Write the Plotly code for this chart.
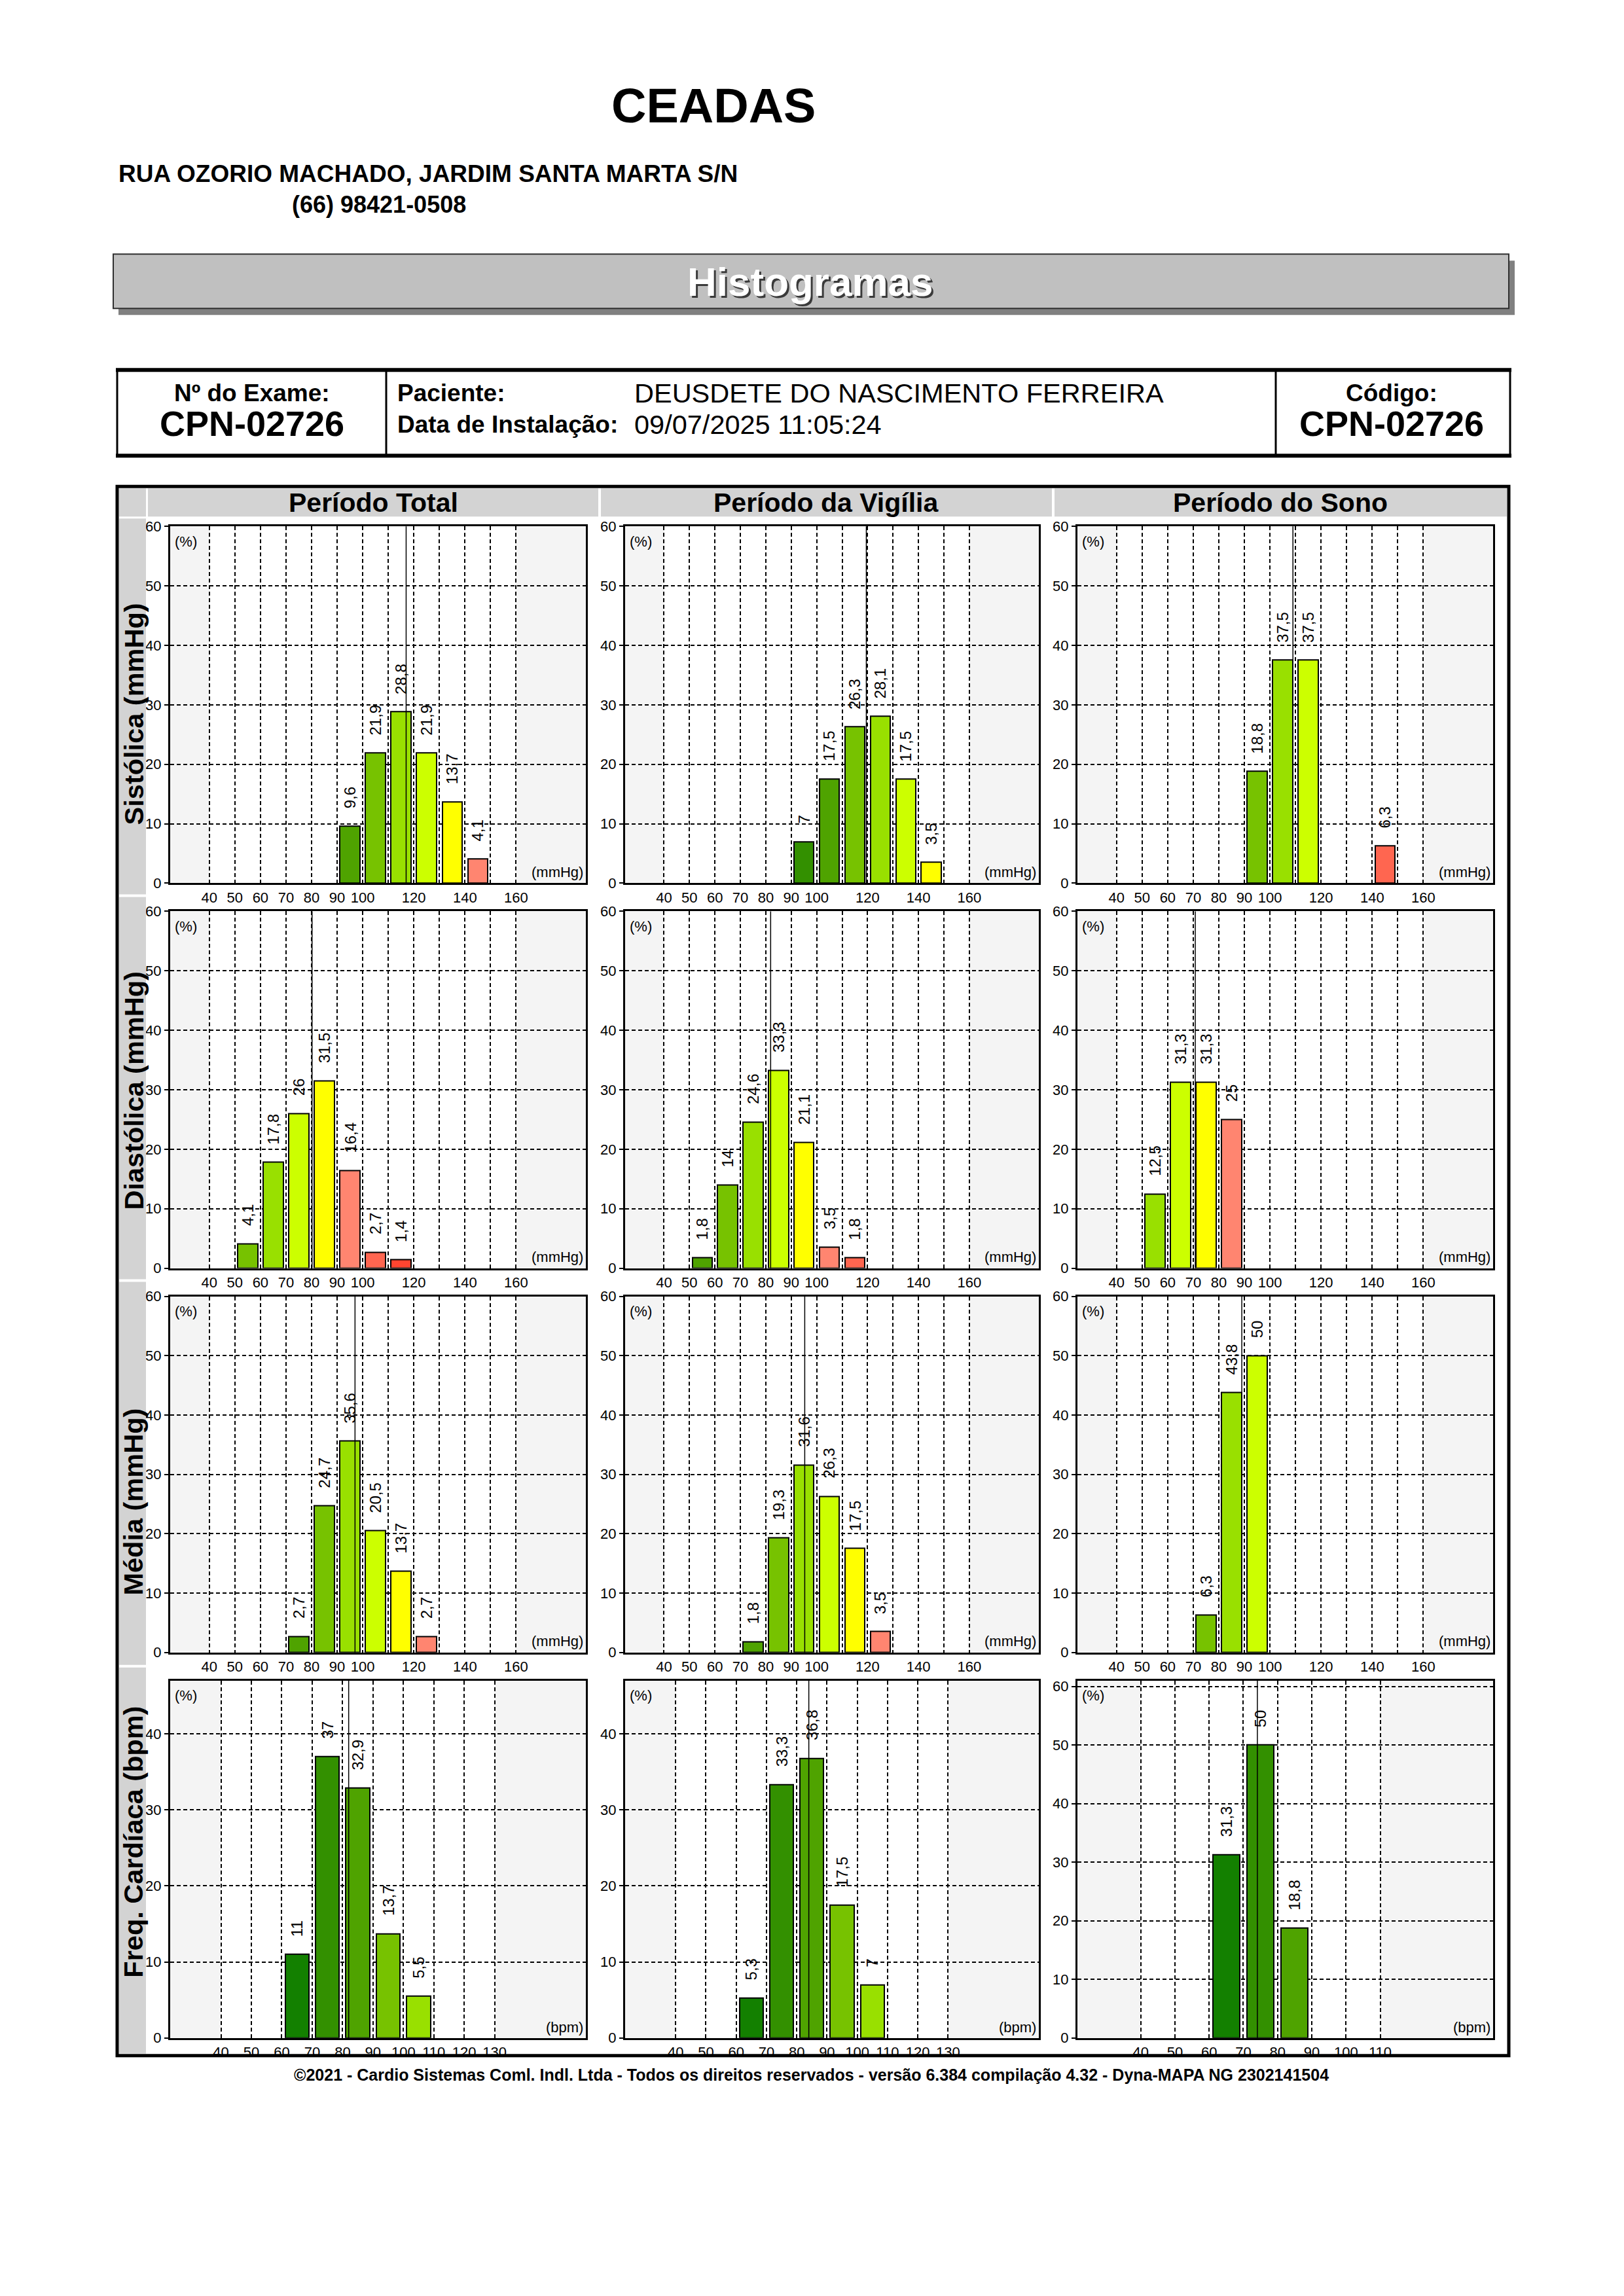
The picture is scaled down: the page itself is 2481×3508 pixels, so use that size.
import plotly.graph_objects as go

W, H = 2481, 3508
FONT = "Liberation Sans, Arial, sans-serif"

# ---------------- data ----------------
periods = ["Período Total", "Período da Vigília", "Período do Sono"]
row_titles = ["Sistólica (mmHg)", "Diastólica (mmHg)", "Média (mmHg)", "Freq. Cardíaca (bpm)"]
row_units = ["(mmHg)", "(mmHg)", "(mmHg)", "(bpm)"]

bp_ticks = [40, 50, 60, 70, 80, 90, 100, 110, 120, 130, 140, 150, 160]
bp_ticktext = ["40", "50", "60", "70", "80", "90", "100", "", "120", "", "140", "", "160"]
fc_ticks_long = [40, 50, 60, 70, 80, 90, 100, 110, 120, 130]
fc_ticks_short = [40, 50, 60, 70, 80, 90, 100, 110]
pct_ticks_60 = [0, 10, 20, 30, 40, 50, 60]
pct_ticks_40 = [0, 10, 20, 30, 40]

# bin lower edges (bin width 10) and percentages
sis_total_bins = [90, 100, 110, 120, 130, 140]
sis_total_pct = [9.6, 21.9, 28.8, 21.9, 13.7, 4.1]
sis_vig_bins = [90, 100, 110, 120, 130, 140]
sis_vig_pct = [7, 17.5, 26.3, 28.1, 17.5, 3.5]
sis_sono_bins = [90, 100, 110, 140]
sis_sono_pct = [18.8, 37.5, 37.5, 6.3]

dia_total_bins = [50, 60, 70, 80, 90, 100, 110]
dia_total_pct = [4.1, 17.8, 26, 31.5, 16.4, 2.7, 1.4]
dia_vig_bins = [50, 60, 70, 80, 90, 100, 110]
dia_vig_pct = [1.8, 14, 24.6, 33.3, 21.1, 3.5, 1.8]
dia_sono_bins = [50, 60, 70, 80]
dia_sono_pct = [12.5, 31.3, 31.3, 25]

med_total_bins = [70, 80, 90, 100, 110, 120]
med_total_pct = [2.7, 24.7, 35.6, 20.5, 13.7, 2.7]
med_vig_bins = [70, 80, 90, 100, 110, 120]
med_vig_pct = [1.8, 19.3, 31.6, 26.3, 17.5, 3.5]
med_sono_bins = [70, 80, 90]
med_sono_pct = [6.3, 43.8, 50]

fc_total_bins = [60, 70, 80, 90, 100]
fc_total_pct = [11, 37, 32.9, 13.7, 5.5]
fc_vig_bins = [60, 70, 80, 90, 100]
fc_vig_pct = [5.3, 33.3, 36.8, 17.5, 7]
fc_sono_bins = [60, 70, 80]
fc_sono_pct = [31.3, 50, 18.8]

# mean value markers (vertical line)
sis_means = [117.0, 119.5, 109.0]
dia_means = [80.2, 81.9, 70.8]
med_means = [97.0, 95.3, 89.0]
fc_means = [82.0, 84.0, 74.1]

# ---------------- styles ----------------
G1, G2, G3, G4, G5, G6 = "#138000", "#339000", "#4FA300", "#77C200", "#99E000", "#CCFF00"
YE, S1, S2, S3 = "#FFFF00", "#FF8570", "#FF6650", "#FF4530"

sis_colors = [[G3, G4, G5, G6, YE, S1], [G2, G3, G4, G5, G6, YE], [G4, G5, G6, S2]]
dia_colors = [[G4, G5, G6, YE, S1, S2, S3], [G3, G4, G5, G6, YE, S1, S2], [G5, G6, YE, S1]]
med_colors = [[G3, G4, G5, G6, YE, S1], [G3, G4, G5, G6, YE, S1], [G4, G5, G6]]
fc_colors = [[G1, G2, G3, G4, G5], [G1, G2, G3, G4, G5], [G1, G2, G3]]

panels = [
    [(sis_total_bins, sis_total_pct), (sis_vig_bins, sis_vig_pct), (sis_sono_bins, sis_sono_pct)],
    [(dia_total_bins, dia_total_pct), (dia_vig_bins, dia_vig_pct), (dia_sono_bins, dia_sono_pct)],
    [(med_total_bins, med_total_pct), (med_vig_bins, med_vig_pct), (med_sono_bins, med_sono_pct)],
    [(fc_total_bins, fc_total_pct), (fc_vig_bins, fc_vig_pct), (fc_sono_bins, fc_sono_pct)],
]
means = [sis_means, dia_means, med_means, fc_means]
colors = [sis_colors, dia_colors, med_colors, fc_colors]

col_px = [(259, 894), (954, 1586), (1645, 2280)]
row_py = [(805, 1350), (1393, 1938), (1981, 2525), (2568, 3114)]

# page offset compensation (measured from rendering)
OFF_X, OFF_Y, SCALE_Y = 7.0, 20.8, 0.9927


def X(px):
    return (px - OFF_X) / W


def Y(py):
    return 1 - ((py - OFF_Y) / SCALE_Y) / H


def fmt(v):
    s = f"{v:.1f}"
    if s.endswith(".0"):
        s = s[:-2]
    return s.replace(".", ",")


fig = go.Figure()
shapes = []
annotations = []
layout_axes = {}

for r in range(4):
    for c in range(3):
        i = r * 3 + c + 1
        xs = "x" if i == 1 else f"x{i}"
        ys = "y" if i == 1 else f"y{i}"
        xname = "xaxis" if i == 1 else f"xaxis{i}"
        yname = "yaxis" if i == 1 else f"yaxis{i}"

        if r < 3:
            xticks, xtext, xrange_ = bp_ticks, bp_ticktext, [24.7, 187.3]
            yticks, yrange_ = pct_ticks_60, [0, 60]
        elif c < 2:
            xticks, xtext, xrange_ = fc_ticks_long, [str(t) for t in fc_ticks_long], [23.3, 160]
            yticks, yrange_ = pct_ticks_40, [0, 47]
        else:
            xticks, xtext, xrange_ = fc_ticks_short, [str(t) for t in fc_ticks_short], [21.5, 143]
            yticks, yrange_ = pct_ticks_60, [0, 61]

        layout_axes[xname] = dict(
            domain=[X(col_px[c][0]), X(col_px[c][1])], anchor=ys, range=xrange_,
            tickmode="array", tickvals=xticks, ticktext=xtext, tickangle=0,
            showgrid=True, gridcolor="black", gridwidth=1.5, griddash="6px,4px",
            showline=True, linecolor="black", linewidth=3, mirror=True,
            ticks="", zeroline=False, fixedrange=True,
            tickfont=dict(family=FONT, size=22, color="black"),
        )
        layout_axes[yname] = dict(
            domain=[Y(row_py[r][1]), Y(row_py[r][0])], anchor=xs, range=yrange_,
            tickmode="array", tickvals=yticks,
            showgrid=True, gridcolor="black", gridwidth=1.5, griddash="6px,4px",
            showline=True, linecolor="black", linewidth=3, mirror=True,
            ticks="outside", ticklen=6, tickwidth=2, tickcolor="black",
            zeroline=False, fixedrange=True,
            tickfont=dict(family=FONT, size=22, color="black"),
        )

        # white central band
        shapes.append(dict(type="rect", xref=xs, yref=f"{ys} domain", x0=xticks[0], x1=xticks[-1],
                           y0=0, y1=1, fillcolor="white", line=dict(width=0), layer="below"))

        bins, pct = panels[r][c]
        fig.add_trace(go.Bar(
            x=[b + 5 for b in bins], y=pct, width=7.8, xaxis=xs, yaxis=ys,
            marker=dict(color=colors[r][c], line=dict(color="black", width=2)),
            showlegend=False, hoverinfo="skip",
        ))
        for b, v in zip(bins, pct):
            annotations.append(dict(
                x=b + 5, y=v, xref=xs, yref=ys, text=fmt(v), textangle=-90,
                showarrow=False, xanchor="center", yanchor="bottom", yshift=25,
                font=dict(family=FONT, size=24, color="black"),
            ))
        # mean line
        shapes.append(dict(type="line", xref=xs, yref=f"{ys} domain", x0=means[r][c], x1=means[r][c],
                           y0=0, y1=1, line=dict(color="black", width=1.5), layer="above"))
        # unit labels
        annotations.append(dict(x=0.008, y=0.985, xref=f"{xs} domain", yref=f"{ys} domain", text="(%)",
                                showarrow=False, xanchor="left", yanchor="top",
                                font=dict(family=FONT, size=22, color="black")))
        annotations.append(dict(x=0.997, y=0.004, xref=f"{xs} domain", yref=f"{ys} domain",
                                text=row_units[r], showarrow=False, xanchor="right", yanchor="bottom",
                                font=dict(family=FONT, size=22, color="black")))


# ---------------- page decorations ----------------
def prect(x0, y0, x1, y1, fill=None, lc=None, lw=0, layer="above"):
    d = dict(type="rect", xref="paper", yref="paper", x0=X(x0), x1=X(x1), y0=Y(y1), y1=Y(y0),
             line=dict(width=lw, color=lc or "rgba(0,0,0,0)"), layer=layer)
    d["fillcolor"] = fill if fill else "rgba(0,0,0,0)"
    return d


def pline(x0, y0, x1, y1, color="black", width=2):
    return dict(type="line", xref="paper", yref="paper", x0=X(x0), x1=X(x1), y0=Y(y0), y1=Y(y1),
                line=dict(color=color, width=width))


def ptext(px, py, text, size, bold=False, color="black", xanchor="center", angle=0, pad=1):
    return dict(x=X(px), y=Y(py), xref="paper", yref="paper", text=f"<b>{text}</b>" if bold else text,
                showarrow=False, xanchor=xanchor, yanchor="middle", textangle=angle, borderpad=pad,
                font=dict(family=FONT, size=size, color=color))


# header texts
annotations.append(ptext(1089, 162, "CEADAS", 74, bold=True))
annotations.append(ptext(178, 266, "RUA OZORIO MACHADO, JARDIM SANTA MARTA S/N", 37, bold=True, xanchor="left"))
annotations.append(ptext(578, 313, "(66) 98421-0508", 36, bold=True))

# banner
shapes.append(prect(180, 399, 2313, 482, fill="#808080"))
shapes.append(prect(172, 389, 2304, 472, fill="#C0C0C0", lc="#303030", lw=2))
annotations.append(ptext(1240, 434, "Histogramas", 62, bold=True, color="#3A3A3A"))
annotations.append(ptext(1237, 431, "Histogramas", 62, bold=True, color="white"))

# info table
shapes.append(prect(178, 566, 2306, 697, lc="black", lw=3))
shapes.append(pline(176, 566, 2308, 566, width=6))
shapes.append(pline(176, 697, 2308, 697, width=6))
shapes.append(pline(589, 566, 589, 697, width=3))
shapes.append(pline(1948, 566, 1948, 697, width=3))
annotations.append(ptext(384, 601, "Nº do Exame:", 37, bold=True, pad=0))
annotations.append(ptext(384, 648, "CPN-02726", 54, bold=True, pad=0))
annotations.append(ptext(604, 601, "Paciente:", 37, bold=True, xanchor="left"))
annotations.append(ptext(604, 649, "Data de Instalação:", 37, bold=True, xanchor="left"))
annotations.append(ptext(966, 601, "DEUSDETE DO NASCIMENTO FERREIRA", 41.5, xanchor="left"))
annotations.append(ptext(966, 649, "09/07/2025 11:05:24", 41.5, xanchor="left"))
annotations.append(ptext(2125, 601, "Código:", 37, bold=True, pad=0))
annotations.append(ptext(2125, 648, "CPN-02726", 54, bold=True, pad=0))

# chart frame and header cells
GRAY = "#D3D3D3"
shapes.append(prect(181, 747, 222, 790, fill=GRAY))
for (x0, x1) in [(225, 913), (917, 1606), (1610, 2301)]:
    shapes.append(prect(x0, 747, x1, 790, fill=GRAY))
for (y0, y1) in [(793, 1367), (1371, 1955), (1959, 2544), (2548, 3138)]:
    shapes.append(prect(181, y0, 222, y1, fill=GRAY))
shapes.append(prect(178, 744, 2304, 3141, lc="black", lw=5))

for c, cx in enumerate([569, 1261, 1955]):
    annotations.append(ptext(cx, 769, periods[c], 41, bold=True))
for r, cy in enumerate([1092, 1667, 2295, 2815]):
    annotations.append(ptext(203, cy, row_titles[r], 41.5, bold=True, angle=-90))

annotations.append(ptext(1238, 3170,
                         "©2021 - Cardio Sistemas Coml. Indl. Ltda - Todos os direitos reservados - versão 6.384 compilação 4.32 - Dyna-MAPA NG 2302141504",
                         25, bold=True))

fig.update_layout(
    width=W, height=H, margin=dict(l=0, r=0, t=0, b=0),
    paper_bgcolor="white", plot_bgcolor="#F4F4F4",
    shapes=shapes, annotations=annotations, bargap=0, showlegend=False,
    **layout_axes,
)

fig.write_html("out.html")
